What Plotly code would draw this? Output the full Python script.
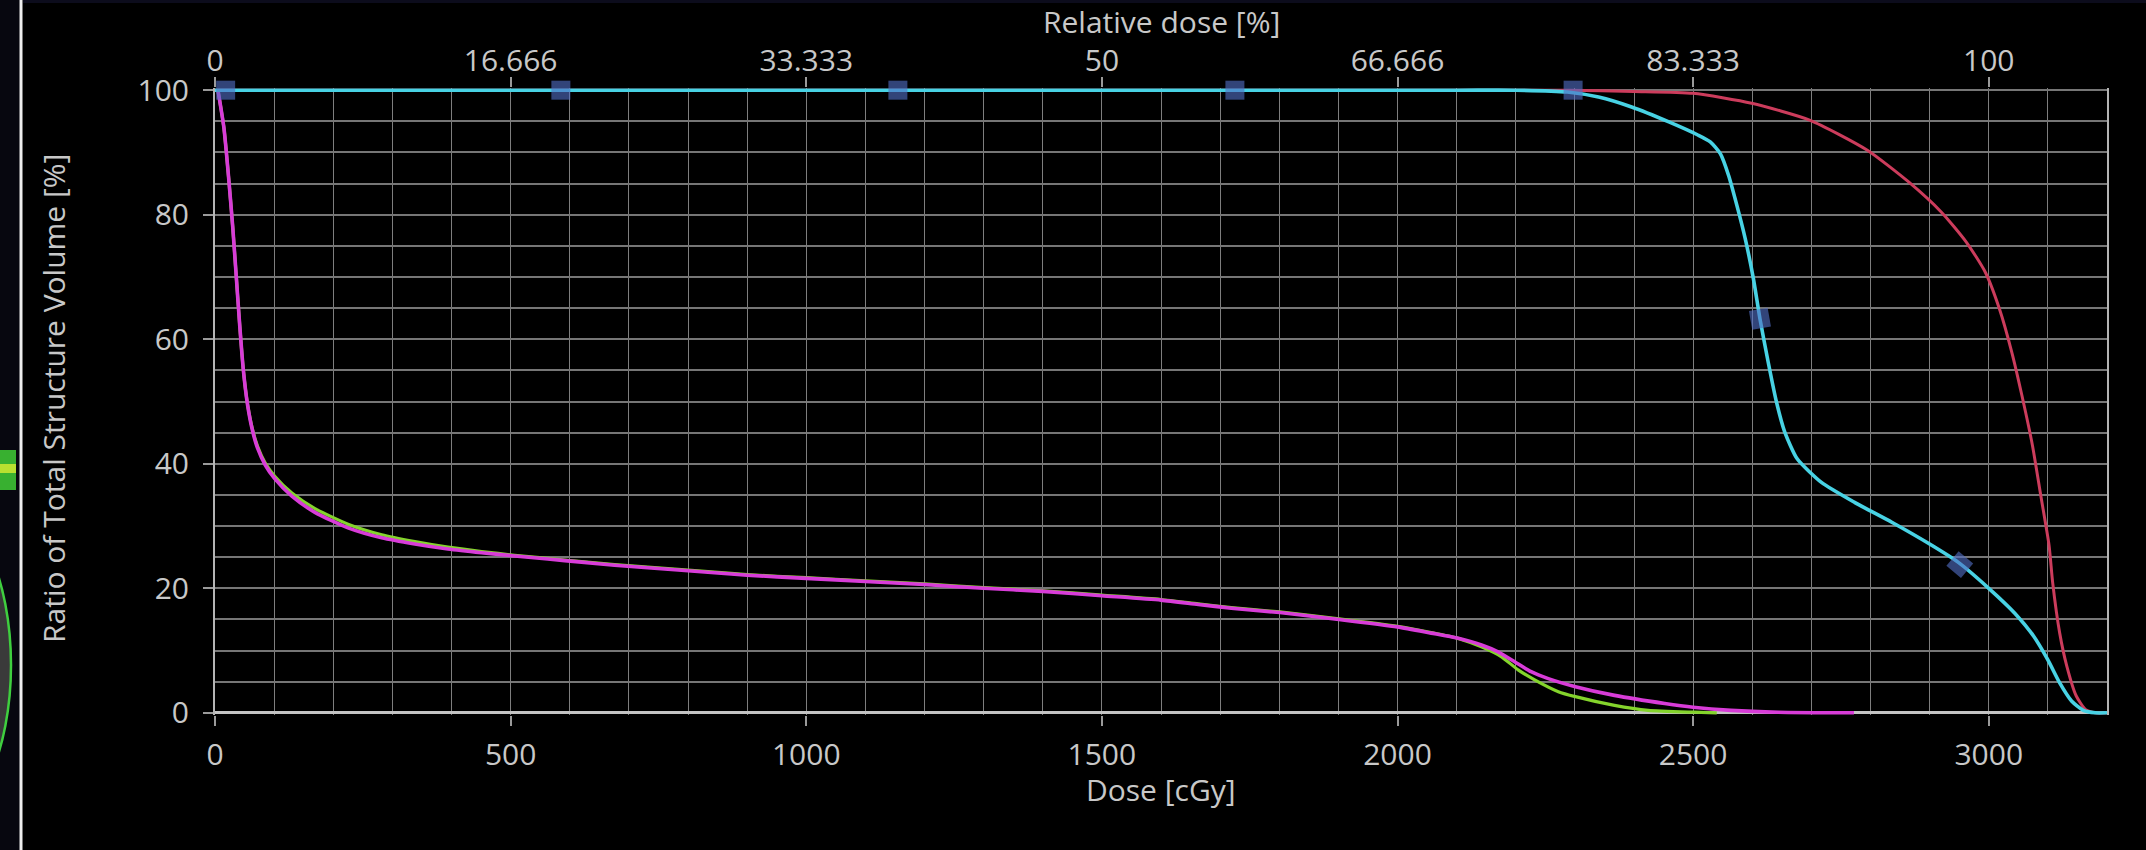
import plotly.graph_objects as go

# ---------------- data ----------------
cyan_dose = [0, 2100, 2200, 2287, 2340, 2396, 2459, 2508, 2529, 2546, 2560, 2574, 2588, 2602,
             2613, 2627, 2641, 2655, 2676, 2717, 2773, 2836, 2900, 2948, 3000, 3044, 3076, 3100,
             3120, 3140, 3160, 3180, 3200]
cyan_vol = [100, 100, 100, 99.7, 98.9, 97.3, 94.9, 92.8, 91.7, 89.8, 86.3, 81.5, 76.2, 69.7,
            63.3, 56.3, 49.9, 45.1, 40.8, 37.0, 33.8, 30.6, 27.1, 24.2, 20.0, 16.0, 12.3, 8.5,
            4.8, 1.9, 0.4, 0.0, 0.0]

red_dose = [0, 2200, 2291, 2400, 2500, 2599, 2697, 2794, 2864, 2920, 2962, 2994, 3018, 3039,
            3056, 3074, 3088, 3102, 3108, 3120, 3132, 3148, 3164, 3180, 3200]
red_vol = [100, 100, 100, 99.8, 99.5, 97.9, 95.2, 90.4, 85.3, 80.4, 75.6, 70.8, 64.9, 57.9,
           51.0, 42.9, 34.9, 26.9, 21.0, 12.8, 7.5, 2.7, 0.5, 0.0, 0.0]

magenta_dose = [5, 15, 23, 30, 36, 42, 48, 55, 63, 72, 85, 101, 130, 169, 225, 282, 338, 394,
                451, 507, 563, 620, 676, 732, 789, 845, 900, 1000, 1100, 1200, 1300, 1400, 1500,
                1600, 1663, 1719, 1801, 1901, 2000, 2057, 2101, 2142, 2170, 2198, 2226, 2255,
                2301, 2367, 2452, 2500, 2564, 2644, 2772]
magenta_vol = [100, 94, 86, 78, 70, 62, 55, 49.5, 45.5, 42.5, 39.8, 37.6, 34.8, 32.2, 29.7, 28.1,
               27.1, 26.3, 25.7, 25.2, 24.7, 24.2, 23.7, 23.3, 22.9, 22.5, 22.1, 21.6, 21.1,
               20.6, 20.0, 19.5, 18.8, 18.1, 17.4, 16.8, 16.1, 15.0, 13.8, 12.8, 12.0, 10.9,
               9.8, 8.2, 6.6, 5.5, 4.2, 2.8, 1.5, 0.9, 0.4, 0.1, 0.0]

green_dose = [5, 15, 23, 30, 36, 42, 48, 55, 63, 72, 85, 101, 130, 169, 225, 282, 338, 394, 451,
              507, 563, 620, 676, 732, 789, 845, 900, 1000, 1100, 1200, 1300, 1400, 1500, 1600,
              1663, 1719, 1801, 1901, 2000, 2057, 2101, 2142, 2176, 2204, 2232, 2272, 2301, 2367,
              2424, 2500, 2540]
green_vol = [100, 94, 86, 78, 70, 62, 55, 49.6, 45.7, 42.8, 40.1, 38.0, 35.3, 32.8, 30.3, 28.6,
             27.5, 26.6, 25.9, 25.3, 24.8, 24.3, 23.8, 23.4, 23.0, 22.6, 22.2, 21.7, 21.2, 20.7,
             20.1, 19.6, 18.9, 18.2, 17.5, 16.9, 16.2, 15.1, 13.9, 12.9, 12.0, 10.6, 9.0, 6.9,
             5.3, 3.4, 2.6, 1.2, 0.4, 0.1, 0.0]

marker_dose = [18, 585, 1155, 1725, 2297, 2613, 2951]
marker_vol = [100, 100, 100, 100, 100, 63.3, 23.8]
marker_angle = [0, 0, 0, 0, 0, -10, 40]

dose_ticks = [0, 500, 1000, 1500, 2000, 2500, 3000]
rel_tick_text = ["0", "16.666", "33.333", "50", "66.666", "83.333", "100"]
vol_ticks = [0, 20, 40, 60, 80, 100]

# ---------------- layout constants ----------------
W, H = 2146, 850
L, R, T, B = 215, 39, 88, 135
FONT = "Open Sans"
TXT = "#c8c8c8"
XGRID = "#7e7e7e"
YGRID = "#767676"


def fx(px):
    return (px - L) / (W - L - R)


def fy(py):
    return (H - B - py) / (H - T - B)


fig = go.Figure()

fig.add_trace(go.Scatter(x=green_dose, y=green_vol, mode="lines",
                         line=dict(color="#84d42c", width=3.2, shape="spline", smoothing=0.6),
                         showlegend=False, hoverinfo="skip"))
fig.add_trace(go.Scatter(x=magenta_dose, y=magenta_vol, mode="lines",
                         line=dict(color="#d83cd8", width=3.6, shape="spline", smoothing=0.6),
                         showlegend=False, hoverinfo="skip"))
fig.add_trace(go.Scatter(x=red_dose, y=red_vol, mode="lines",
                         line=dict(color="#cc3c5c", width=3.0, shape="spline", smoothing=0.6),
                         showlegend=False, hoverinfo="skip"))
fig.add_trace(go.Scatter(x=cyan_dose, y=cyan_vol, mode="lines",
                         line=dict(color="#48d2e4", width=3.6, shape="spline", smoothing=0.6),
                         showlegend=False, hoverinfo="skip"))
fig.add_trace(go.Scatter(x=marker_dose, y=marker_vol, mode="markers", cliponaxis=False,
                         marker=dict(symbol="square", size=19, color="rgba(80,110,195,0.62)",
                                     angle=marker_angle, line=dict(width=0)),
                         showlegend=False, hoverinfo="skip"))
# invisible trace for the top (relative dose) axis
fig.add_trace(go.Scatter(x=[0, 3200], y=[None, None], xaxis="x2", mode="lines",
                         showlegend=False, hoverinfo="skip"))

fig.update_layout(
    width=W, height=H,
    margin=dict(l=L, r=R, t=T, b=B, pad=0),
    paper_bgcolor="#000000", plot_bgcolor="#000000",
    font=dict(family=FONT, size=30, color=TXT),
    xaxis=dict(range=[0, 3200], tickmode="array", tickvals=dose_ticks,
               ticks="outside", ticklen=10, tickwidth=2, tickcolor="#9a9a9a",
               showgrid=True, gridcolor=XGRID, gridwidth=1.3,
               minor=dict(dtick=100, tick0=0, showgrid=True, gridcolor=XGRID, gridwidth=1.3,
                          ticks=""),
               showline=False, zeroline=False, ticklabelstandoff=3,
               tickfont=dict(family=FONT, size=30, color=TXT)),
    xaxis2=dict(range=[0, 3200], overlaying="x", side="top", anchor="y",
                tickmode="array", tickvals=dose_ticks, ticktext=rel_tick_text,
                ticks="outside", ticklen=10, tickwidth=2, tickcolor="#9a9a9a",
                showgrid=False, showline=False, zeroline=False, ticklabelstandoff=-6,
                tickfont=dict(family=FONT, size=30, color=TXT)),
    yaxis=dict(range=[-0.35, 100.35], tickmode="array", tickvals=vol_ticks,
               ticks="outside", ticklen=10, tickwidth=2, tickcolor="#9a9a9a",
               showgrid=True, gridcolor=YGRID, gridwidth=2,
               minor=dict(dtick=5, tick0=0, showgrid=True, gridcolor=YGRID, gridwidth=2,
                          ticks=""),
               showline=True, mirror=True, linecolor="#b4b4b4", linewidth=2,
               zeroline=True, zerolinecolor="#c4c4c4", zerolinewidth=2.5,
               ticklabelstandoff=8,
               tickfont=dict(family=FONT, size=30, color=TXT)),
    annotations=[
        dict(text="Ratio of Total Structure Volume [%]", xref="paper", yref="paper",
             x=fx(53), y=fy(399), xanchor="center", yanchor="middle", textangle=-90,
             showarrow=False, font=dict(family=FONT, size=30, color=TXT)),
        dict(text="Dose [cGy]", xref="paper", yref="paper",
             x=fx(1161), y=fy(789), xanchor="center", yanchor="middle",
             showarrow=False, font=dict(family=FONT, size=30, color=TXT)),
        dict(text="Relative dose [%]", xref="paper", yref="paper",
             x=fx(1161), y=fy(22), xanchor="center", yanchor="middle",
             showarrow=False, font=dict(family=FONT, size=30, color=TXT)),
    ],
    shapes=[
        # left strip of the host application (dark panel, white divider, green contour)
        dict(type="rect", xref="paper", yref="paper", x0=fx(0), x1=fx(20), y0=fy(850), y1=fy(0),
             fillcolor="#07070f", line=dict(width=0), layer="below"),
        dict(type="circle", xref="paper", yref="paper", x0=fx(-150), x1=fx(11), y0=fy(830),
             y1=fy(500), fillcolor="#3a3a3a", line=dict(color="#3fcf3f", width=2.5),
             layer="below"),
        dict(type="rect", xref="paper", yref="paper", x0=fx(0), x1=fx(16), y0=fy(490),
             y1=fy(450), fillcolor="#38b030", line=dict(width=0), layer="below"),
        dict(type="rect", xref="paper", yref="paper", x0=fx(0), x1=fx(16), y0=fy(473),
             y1=fy(464), fillcolor="#b8e030", line=dict(width=0), layer="below"),
        dict(type="line", xref="paper", yref="paper", x0=fx(21), x1=fx(21), y0=fy(850),
             y1=fy(0), line=dict(color="#eeeeee", width=3), layer="below"),
        dict(type="rect", xref="paper", yref="paper", x0=fx(23), x1=fx(W), y0=fy(3),
             y1=fy(0), fillcolor="#0c0c1c", line=dict(width=0), layer="below"),
    ],
)

fig.write_html("out.html", config={"displayModeBar": False},
               post_script="document.body.style.margin='0';document.body.style.overflow='hidden';")
